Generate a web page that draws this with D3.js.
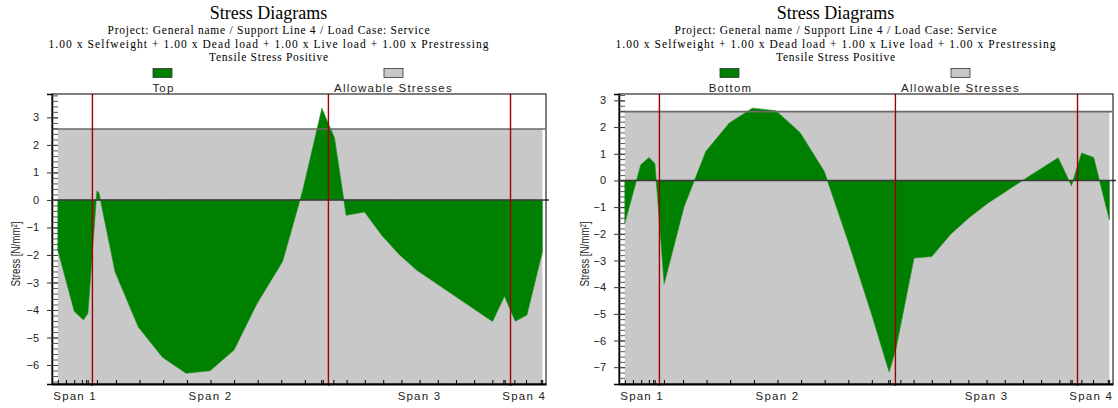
<!DOCTYPE html>
<html>
<head>
<meta charset="utf-8">
<script src="https://cdn.jsdelivr.net/npm/d3@7"></script>
<style>
  body { margin: 0; background: #fff; }
  svg { display: block; }
  .serif { font-family: "Liberation Serif", "Times New Roman", serif; fill: #000; }
  .sans { font-family: "Liberation Sans", Arial, sans-serif; fill: #222; }
</style>
</head>
<body>
<svg id="chart" width="1118" height="408"></svg>
<script>
// ---- Beam geometry (m) ----
const spanEnds = [0, 1.54, 12.05, 20.16, 21.58];
const supports = [1.54, 12.05, 20.16];
const spanLabels = ["Span 1", "Span 2", "Span 3", "Span 4"];
// design stations shown as ticks on the beam axis
const stations = [0, 0.36, 0.73, 1.07, 1.26, 1.33, 1.74, 2.59, 3.64, 4.69, 5.75, 6.80, 7.85, 8.90,
  9.95, 11.00, 11.73, 11.80, 12.27, 12.86, 13.67, 14.49, 15.30, 16.11, 16.92, 17.73, 18.54,
  19.35, 19.84, 19.90, 20.33, 20.85, 21.51, 21.57];

// ---- Allowable tensile stress (N/mm²) ----
const allowableTension = 2.58;

// ---- Top fibre stress (N/mm²) ----
const topX = [0, 0.73, 1.14, 1.34, 1.74, 1.83, 2.55, 3.59, 4.66, 5.71, 6.78, 7.85, 8.86, 10.01,
  10.91, 11.76, 11.95, 12.32, 12.84, 13.66, 14.43, 15.17, 15.99, 19.36, 19.89, 20.37, 20.89, 21.58];
const topStress = [-1.83, -4.05, -4.36, -4.12, 0.33, 0.26, -2.62, -4.63, -5.72, -6.30, -6.21, -5.45,
  -3.78, -2.24, 0.36, 3.33, 2.96, 2.26, -0.56, -0.44, -1.29, -1.96, -2.56, -4.42, -3.50, -4.41, -4.18, -1.89];

// ---- Bottom fibre stress (N/mm²) ----
const bottomX = [0, 0.71, 1.08, 1.34, 1.75, 2.64, 3.61, 4.65, 5.68, 6.73, 7.80, 8.88, 9.95, 11.00,
  11.77, 12.07, 12.88, 13.67, 14.52, 15.34, 16.15, 16.97, 17.71, 19.30, 19.89, 20.34, 20.88, 21.58];
const bottomStress = [-1.60, 0.59, 0.86, 0.63, -3.88, -0.98, 1.09, 2.15, 2.71, 2.61, 1.80, 0.34,
  -2.30, -5.04, -7.18, -6.33, -2.91, -2.85, -2.01, -1.39, -0.86, -0.41, 0.00, 0.85, -0.20, 1.03, 0.86, -1.48];

// ---- Axis tick labels ----
const topYTicks = [-6, -5, -4, -3, -2, -1, 0, 1, 2, 3];
const bottomYTicks = [-7, -6, -5, -4, -3, -2, -1, 0, 1, 2, 3];

// ---- Header text ----
const titleText = "Stress Diagrams";
const headerLines = [
  "Project: General name / Support Line 4 / Load Case: Service",
  "1.00 x Selfweight + 1.00 x Dead load + 1.00 x Live load + 1.00 x Prestressing",
  "Tensile Stress Positive"
];
const allowableLabel = "Allowable Stresses";
const yAxisLabel = "Stress [N/mm²]";

const colors = { stress: "#008000", allowable: "#c8c8c8", support: "#a00000" };

const panels = [
  { name: "Top", xs: topX, vs: topStress, yDomain: [-6.69, 3.85], yTicks: topYTicks, dx: 0 },
  { name: "Bottom", xs: bottomX, vs: bottomStress, yDomain: [-7.63, 3.24], yTicks: bottomYTicks, dx: 567 }
];

// plot box inside each panel
const box = { left: 52, right: 546, top: 94, bottom: 384 };
const headerCx = 268.5;

const svg = d3.select("#chart");

panels.forEach((p, i) => {
  const g = svg.append("g").attr("transform", `translate(${p.dx},0)`);

  const x = d3.scaleLinear().domain([-0.26, 21.74]).range([box.left, box.right]);
  const y = d3.scaleLinear().domain(p.yDomain).range([box.bottom, box.top]);

  // header
  g.append("text").attr("class", "serif").attr("x", headerCx).attr("y", 18.5)
    .attr("text-anchor", "middle").attr("font-size", 18).text(titleText);
  const lineY = [34, 47.5, 61];
  const lineW = [322, 440, 119];
  headerLines.forEach((t, k) => {
    g.append("text").attr("class", "serif").attr("x", headerCx).attr("y", lineY[k])
      .attr("text-anchor", "middle").attr("font-size", 11.5)
      .attr("textLength", lineW[k]).attr("lengthAdjust", "spacing").text(t);
  });

  // legend
  const legend = [
    { label: p.name, fill: colors.stress, sx: 153, cx: 163.5 },
    { label: allowableLabel, fill: colors.allowable, sx: 384, cx: 393.5 }
  ];
  legend.forEach(l => {
    g.append("rect").attr("x", l.sx).attr("y", 68.5).attr("width", 19).attr("height", 9)
      .attr("fill", l.fill).attr("stroke", "#333").attr("stroke-width", 0.8);
    g.append("text").attr("class", "sans").attr("x", l.cx).attr("y", 91.5)
      .attr("text-anchor", "middle").attr("font-size", 11.5).attr("letter-spacing", 1.2)
      .text(l.label);
  });

  // clip
  const clipId = "clip" + i;
  g.append("clipPath").attr("id", clipId).append("rect")
    .attr("x", box.left).attr("y", box.top)
    .attr("width", box.right - box.left).attr("height", box.bottom - box.top);
  const plot = g.append("g").attr("clip-path", `url(#${clipId})`);

  // allowable stress zone
  plot.append("rect")
    .attr("x", x(spanEnds[0])).attr("y", y(allowableTension))
    .attr("width", x(spanEnds[spanEnds.length - 1]) - x(spanEnds[0]))
    .attr("height", box.bottom - y(allowableTension))
    .attr("fill", colors.allowable);

  // stress diagram
  const data = p.xs.map((xv, k) => ({ x: xv, v: p.vs[k] }));
  const area = d3.area().x(d => x(d.x)).y0(y(0)).y1(d => y(d.v));
  plot.append("path").datum(data).attr("d", area)
    .attr("fill", colors.stress).attr("stroke", "#1f8f1f").attr("stroke-width", 0.6);

  // allowable limit line
  g.append("line").attr("x1", box.left).attr("x2", box.right - 1)
    .attr("y1", y(allowableTension)).attr("y2", y(allowableTension))
    .attr("stroke", "#6a6a6a").attr("stroke-width", 1.6);

  // zero line
  g.append("line").attr("x1", box.left).attr("x2", box.right + 3)
    .attr("y1", y(0)).attr("y2", y(0))
    .attr("stroke", "#3a3a3a").attr("stroke-width", 1.6);

  // support lines
  g.selectAll(".support").data(supports).join("line")
    .attr("x1", d => x(d)).attr("x2", d => x(d))
    .attr("y1", box.top).attr("y2", box.bottom + 2)
    .attr("stroke", colors.support).attr("stroke-width", 1.4);

  // frame
  g.append("rect").attr("x", box.left).attr("y", box.top)
    .attr("width", box.right - box.left).attr("height", box.bottom - box.top)
    .attr("fill", "none").attr("stroke", "#000").attr("stroke-width", 1);

  // y axis: major ticks (outside) with labels
  const yAxis = g.append("g").attr("transform", `translate(${box.left},0)`)
    .call(d3.axisLeft(y).tickValues(p.yTicks).tickSize(5).tickPadding(8).tickFormat(d3.format("d")));
  yAxis.select(".domain").attr("stroke", "#000").attr("stroke-width", 1.5);
  yAxis.selectAll(".tick line").attr("stroke", "#333");
  yAxis.selectAll(".tick text").attr("font-family", "Liberation Sans, Arial, sans-serif")
    .attr("font-size", 11).attr("fill", "#222");
  // major ticks continuing inside
  g.append("g").attr("transform", `translate(${box.left},0)`)
    .call(d3.axisLeft(y).tickValues(p.yTicks).tickSize(-6).tickFormat(""))
    .call(s => s.select(".domain").remove())
    .selectAll(".tick line").attr("stroke", "#333");
  // minor ticks every 0.2
  const minor = d3.range(Math.ceil(p.yDomain[0] * 5), Math.floor(p.yDomain[1] * 5) + 1).map(k => k / 5);
  g.append("g").attr("transform", `translate(${box.left},0)`)
    .call(d3.axisLeft(y).tickValues(minor).tickSize(-6).tickFormat(""))
    .call(s => s.select(".domain").remove())
    .selectAll(".tick line").attr("stroke", "#444").attr("stroke-width", 0.9);

  // beam axis with station ticks
  const xAxis = g.append("g").attr("transform", `translate(0,${box.bottom})`)
    .call(d3.axisBottom(x).tickValues(stations).tickSize(-4).tickSizeOuter(0).tickFormat(""));
  xAxis.select(".domain").attr("stroke", "#000").attr("stroke-width", 2);
  xAxis.selectAll(".tick line").attr("stroke", "#000");

  // span labels centred on each span, kept inside the box
  spanLabels.forEach((lab, k) => {
    const mid = x((spanEnds[k] + spanEnds[k + 1]) / 2);
    const t = g.append("text").attr("class", "sans").attr("y", 400)
      .attr("font-size", 11.5).attr("letter-spacing", 1.2).text(lab);
    const w = t.node().getComputedTextLength();
    let left = mid - w / 2;
    left = Math.max(box.left, Math.min(box.right - w, left));
    t.attr("x", left);
  });

  // y axis title
  g.append("text").attr("class", "sans")
    .attr("transform", `translate(${20 + (i ? 2 : 0)},254) rotate(-90)`)
    .attr("text-anchor", "middle").attr("font-size", 12.5)
    .attr("textLength", 65).attr("lengthAdjust", "spacingAndGlyphs")
    .text(yAxisLabel);
});
</script>
</body>
</html>
